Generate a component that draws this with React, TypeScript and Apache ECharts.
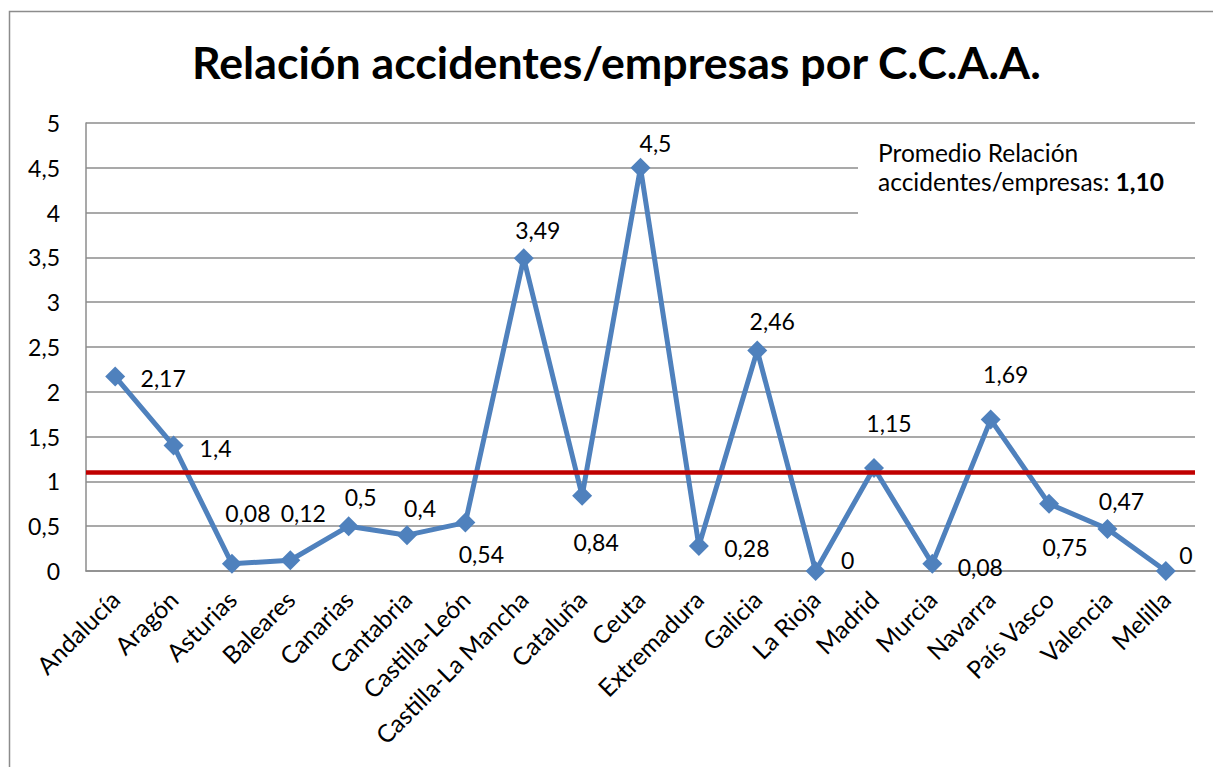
import React, { useEffect, useRef } from "react";
import * as echarts from "echarts";

const titleText = "Relación accidentes/empresas por C.C.A.A.";
const categories = [
  "Andalucía", "Aragón", "Asturias", "Baleares", "Canarias", "Cantabria",
  "Castilla-León", "Castilla-La Mancha", "Cataluña", "Ceuta", "Extremadura",
  "Galicia", "La Rioja", "Madrid", "Murcia", "Navarra", "País Vasco",
  "Valencia", "Melilla",
];
const ratios = [
  2.17, 1.4, 0.08, 0.12, 0.5, 0.4, 0.54, 3.49, 0.84, 4.5, 0.28, 2.46, 0,
  1.15, 0.08, 1.69, 0.75, 0.47, 0,
];
const promedio = 1.1;
const yTicks = { min: 0, max: 5, interval: 0.5 };

// label placement (style): offset of each value label from its point
const labelOffsets: [number, number][] = [
  [48, 1], [42, 2], [16, -51], [13, -47], [12, -29], [13, -27], [16, 31],
  [14, -28], [14, 46], [15, -25], [48, 2], [15, -30], [32, -11], [15, -45],
  [48, 3], [15, -46], [16, 43], [14, -28], [20, -16],
];

const FONT = "Lato, 'Open Sans', sans-serif";
const GRAY = "#8c8c8c";
const fmt = (v: number) => String(v).replace(".", ",");

export default function App() {
  const ref = useRef<HTMLDivElement>(null);
  useEffect(() => {
    if (!ref.current) return;
    const chart = echarts.init(ref.current, null, { renderer: "svg" });
    chart.setOption({
      animation: false,
      backgroundColor: "#ffffff",
      textStyle: { fontFamily: FONT },
      title: {
        text: titleText,
        left: 192,
        top: 39,
        padding: 0,
        textStyle: { fontFamily: FONT, fontWeight: "bold", fontSize: 44.7, color: "#000" },
      },
      grid: { left: 86, right: 18, top: 123, bottom: 196, containLabel: false },
      xAxis: {
        type: "category",
        data: categories,
        boundaryGap: true,
        axisLine: { show: true, lineStyle: { color: GRAY, width: 1.5 } },
        axisTick: { show: false },
        axisLabel: {
          interval: 0,
          rotate: 45,
          margin: 24,
          fontSize: 24.5,
          color: "#000",
          fontFamily: FONT,
        },
      },
      yAxis: {
        type: "value",
        min: yTicks.min,
        max: yTicks.max,
        interval: yTicks.interval,
        axisLine: { show: true, lineStyle: { color: GRAY, width: 1.5 } },
        axisTick: { show: false },
        splitLine: { show: true, lineStyle: { color: GRAY, width: 1.5 } },
        axisLabel: {
          margin: 26,
          fontSize: 23,
          color: "#000",
          fontFamily: FONT,
          formatter: (v: number) => fmt(v),
        },
      },
      graphic: [
        {
          type: "rect",
          z: -10,
          silent: true,
          shape: { x: 9.5, y: 11.5, width: 1400, height: 1000 },
          style: { fill: "none", stroke: GRAY, lineWidth: 1.5 },
        },
        {
          type: "rect",
          z: 100,
          silent: true,
          shape: { x: 858, y: 130, width: 345, height: 105 },
          style: { fill: "#ffffff" },
        },
        {
          type: "text",
          z: 101,
          silent: true,
          x: 878,
          y: 138,
          style: {
            text: `{a|Promedio Relación}\n{a|accidentes/empresas: }{b|${promedio.toFixed(2).replace(".", ",")}}`,
            fontFamily: FONT,
            fontSize: 24.5,
            lineHeight: 29,
            fill: "#000",
            rich: {
              a: { fontFamily: FONT, fontSize: 24.5, lineHeight: 29, fill: "#000" },
              b: { fontFamily: FONT, fontSize: 24.5, lineHeight: 29, fontWeight: "bold", fill: "#000" },
            },
          },
        },
      ],
      series: [
        {
          type: "line",
          name: "Relación",
          data: ratios.map((v, i) => ({
            value: v,
            label: { offset: labelOffsets[i] },
          })),
          symbol: "diamond",
          symbolSize: 20,
          lineStyle: { color: "#4F81BD", width: 5 },
          itemStyle: { color: "#4F81BD" },
          label: {
            show: true,
            position: "inside",
            fontSize: 23,
            color: "#000",
            fontFamily: FONT,
            formatter: (p: any) => fmt(p.value),
          },
          markLine: {
            silent: true,
            symbol: ["none", "none"],
            label: { show: false },
            lineStyle: { color: "#C00000", width: 4.5, type: "solid" },
            data: [{ yAxis: promedio }],
          },
          z: 3,
        },
      ],
    });
    return () => chart.dispose();
  }, []);
  return (
    <div
      ref={ref}
      style={{ position: "fixed", left: 0, top: 0, width: 1213, height: 767, background: "#fff" }}
    />
  );
}
